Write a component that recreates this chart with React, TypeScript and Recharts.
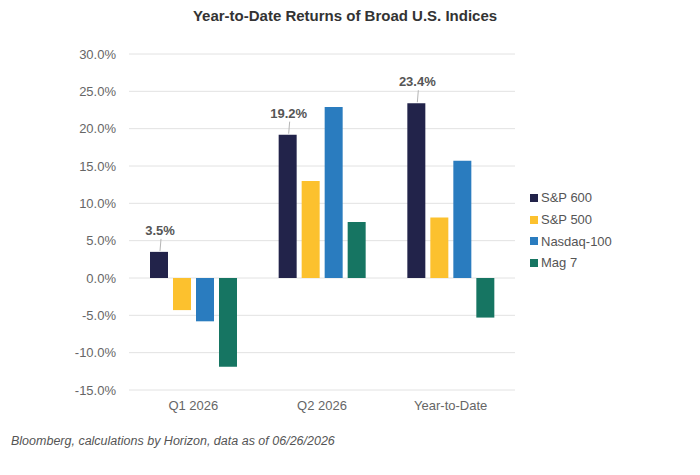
import React from 'react';
import { BarChart, Bar, XAxis, YAxis, CartesianGrid, Legend, LabelList } from 'recharts';

const categories = ['Q1 2026', 'Q2 2026', 'Year-to-Date'];
const sp600 = [3.5, 19.2, 23.4];
const sp500 = [-4.3, 13.0, 8.1];
const nasdaq100 = [-5.8, 22.9, 15.7];
const mag7 = [-11.9, 7.5, -5.3];
const yTicks = [-15, -10, -5, 0, 5, 10, 15, 20, 25, 30];

const seriesNames = ['S&P 600', 'S&P 500', 'Nasdaq-100', 'Mag 7'];
const seriesKeys = ['sp600', 'sp500', 'nasdaq100', 'mag7'];
const seriesColors = ['#22234a', '#fcc12e', '#2a7cbf', '#167562'];

const data = categories.map((c, i) => ({
  name: c,
  sp600: sp600[i],
  sp500: sp500[i],
  nasdaq100: nasdaq100[i],
  mag7: mag7[i],
}));

const FONT = '"Liberation Sans", Arial, Helvetica, sans-serif';

const LeaderLabel = (props: any) => {
  const { x, y, width, value } = props;
  const cx = x + width / 2;
  return (
    <g>
      <line x1={cx + 1} y1={y - 1} x2={cx + 2} y2={y - 13} stroke="#b5b5b5" strokeWidth={1} />
      <text
        x={cx + 1}
        y={y - 17}
        textAnchor="middle"
        fontFamily={FONT}
        fontSize={13}
        fontWeight="bold"
        fill="#555"
      >
        {`${Number(value).toFixed(1)}%`}
      </text>
    </g>
  );
};

const LegendContent = () => (
  <div style={{ fontFamily: FONT, fontSize: 13, color: '#555' }}>
    {seriesNames.map((n, i) => (
      <div key={n} style={{ display: 'flex', alignItems: 'center', height: 21.7 }}>
        <span
          style={{
            display: 'inline-block',
            width: 8,
            height: 8,
            background: seriesColors[i],
            marginRight: 3,
          }}
        />
        <span>{n}</span>
      </div>
    ))}
  </div>
);

export default function App() {
  return (
    <div style={{ position: 'absolute', left: 0, top: 0, width: 700, height: 475, background: '#fff' }}>
      <div
        style={{
          position: 'absolute',
          left: 0,
          width: 690,
          top: 6,
          textAlign: 'center',
          fontFamily: FONT,
          fontWeight: 'bold',
          fontSize: 15,
          color: '#333',
          lineHeight: '20px',
        }}
      >
        Year-to-Date Returns of Broad U.S. Indices
      </div>
      <BarChart
        width={700}
        height={475}
        data={data}
        margin={{ top: 54, right: 185, bottom: 55, left: 0 }}
        barSize={18}
        barGap={5}
      >
        <CartesianGrid horizontal vertical={false} stroke="#e2e2e2" />
        <XAxis
          dataKey="name"
          axisLine={false}
          tickLine={false}
          tickMargin={5}
          height={30}
          tick={{ fill: '#666', fontSize: 13, fontFamily: FONT }}
        />
        <YAxis
          width={129}
          domain={[-15, 30]}
          ticks={yTicks}
          axisLine={false}
          tickLine={false}
          tickMargin={7}
          tickFormatter={(v: number) => `${v.toFixed(1)}%`}
          tick={{ fill: '#666', fontSize: 13, fontFamily: FONT }}
        />
        <Legend
          layout="vertical"
          align="center"
          verticalAlign="middle"
          wrapperStyle={{ left: 530, top: 187, width: 120 }}
          content={<LegendContent />}
        />
        {seriesKeys.map((k, i) => (
          <Bar key={k} dataKey={k} name={seriesNames[i]} fill={seriesColors[i]} isAnimationActive={false}>
            {i === 0 ? <LabelList dataKey={k} content={<LeaderLabel />} /> : null}
          </Bar>
        ))}
      </BarChart>
      <div
        style={{
          position: 'absolute',
          left: 11,
          top: 433,
          fontFamily: FONT,
          fontStyle: 'italic',
          fontSize: 12.5,
          color: '#555',
          lineHeight: '16px',
        }}
      >
        Bloomberg, calculations by Horizon, data as of 06/26/2026
      </div>
    </div>
  );
}
